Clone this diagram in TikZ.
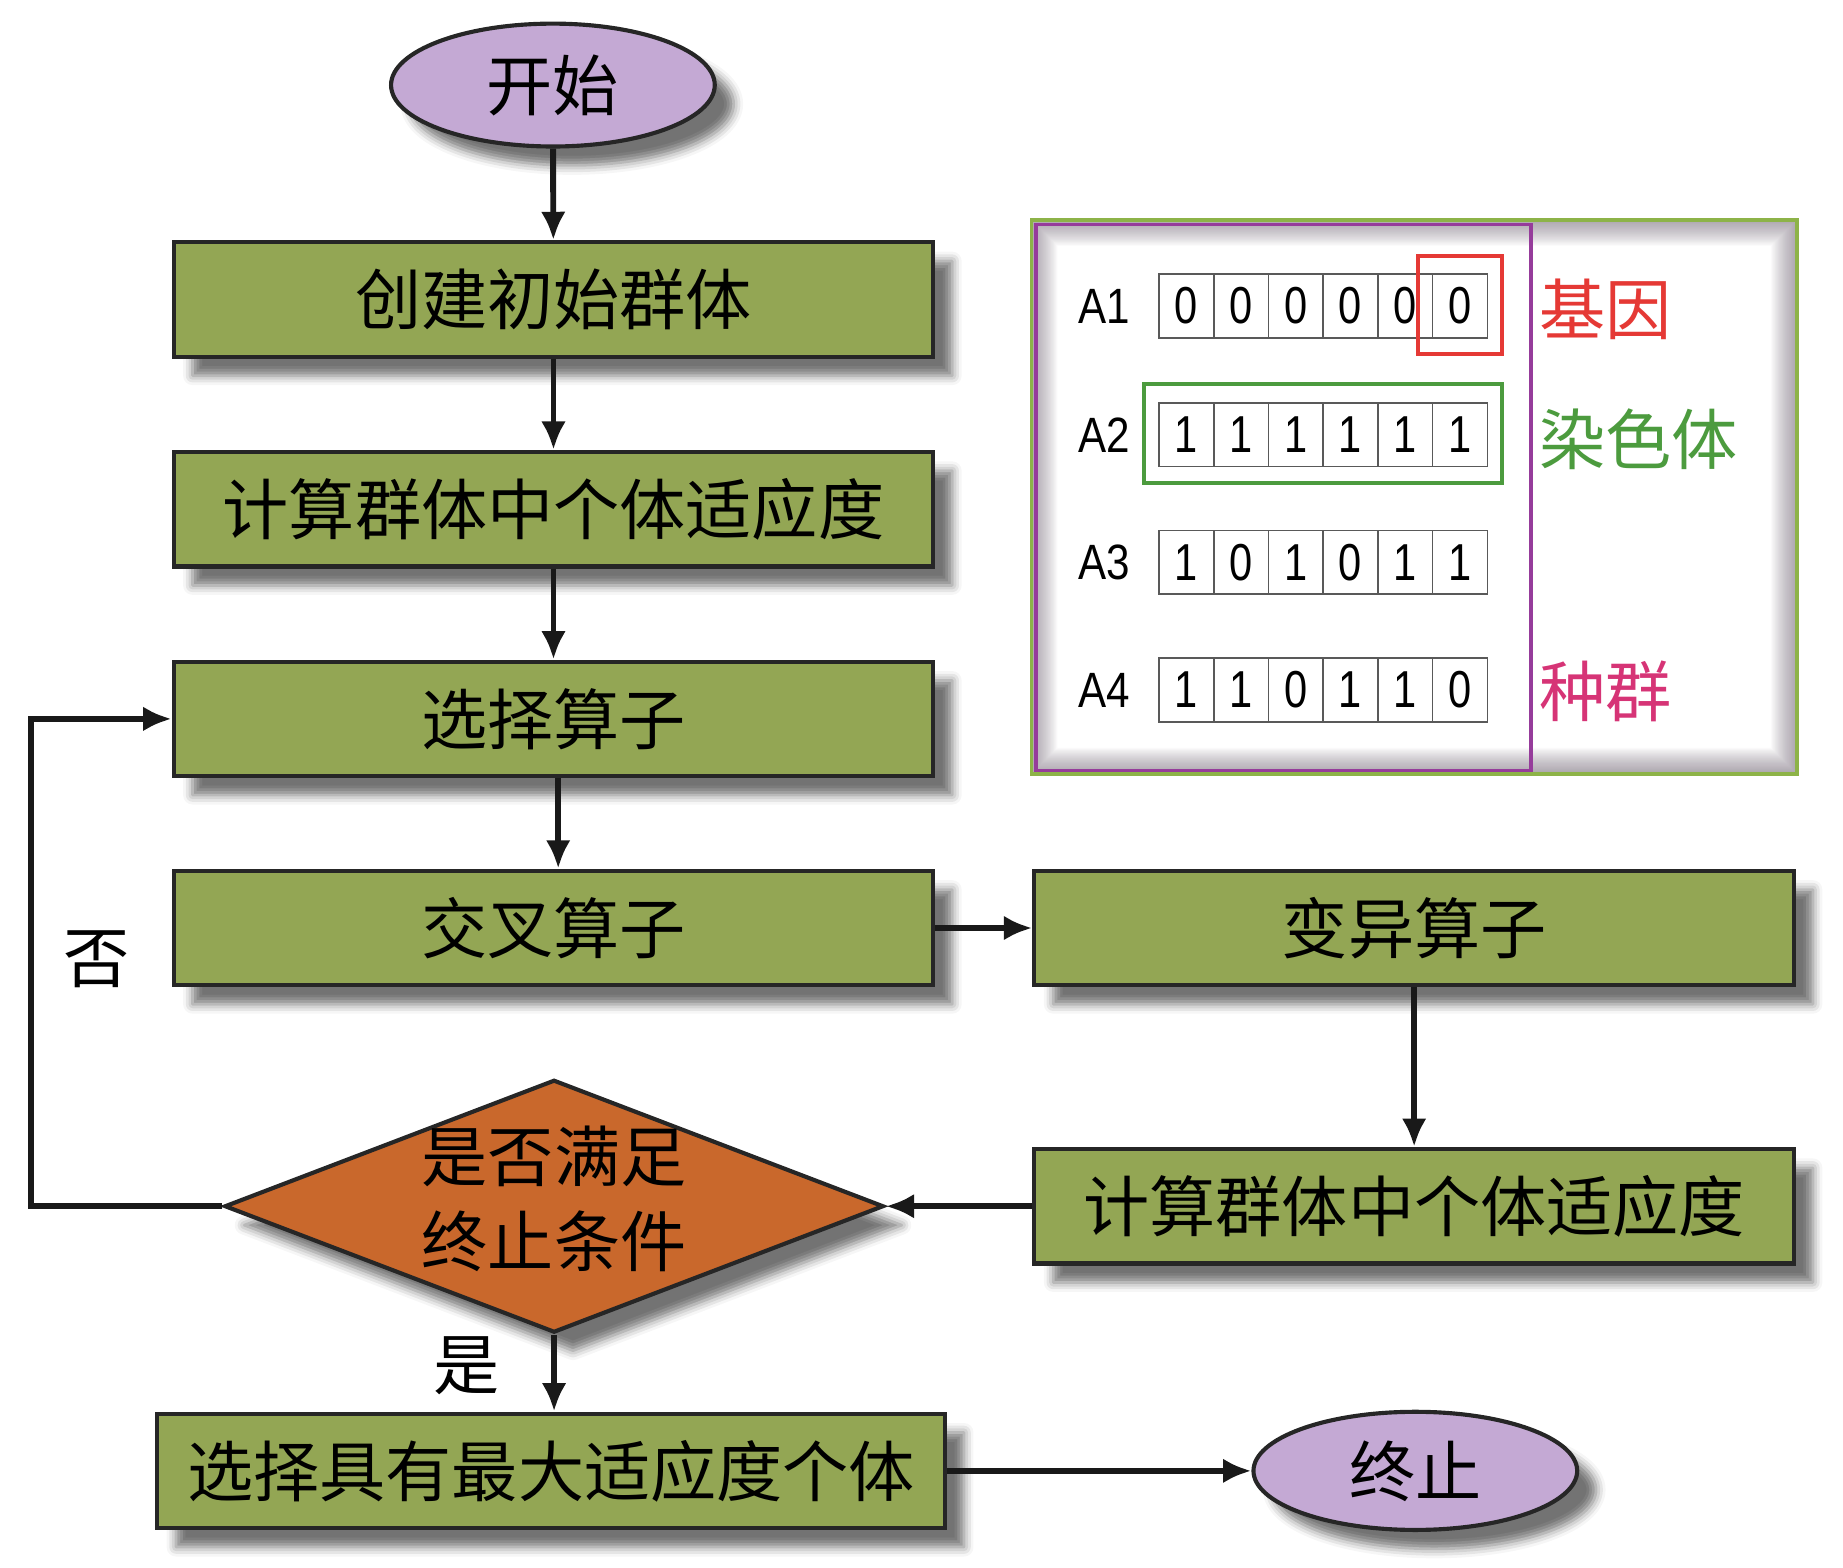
\documentclass[tikz,border=0pt]{standalone}
\usepackage{fontspec}
\usepackage{graphicx}
\newfontfamily\cjk{Noto Sans CJK SC}
\newfontfamily\lat{Liberation Sans}
\usetikzlibrary{shapes.geometric,arrows.meta,shadows.blur}
\definecolor{boxgreen}{RGB}{147,166,84}
\definecolor{ellfill}{RGB}{196,169,212}
\definecolor{decfill}{RGB}{201,104,44}
\definecolor{panelgreen}{RGB}{141,179,72}
\definecolor{panelpurple}{RGB}{150,60,155}
\definecolor{genered}{RGB}{229,57,53}
\definecolor{chromgreen}{RGB}{76,155,62}
\definecolor{popmag}{RGB}{214,52,118}
\definecolor{innershade}{RGB}{120,108,124}
\begin{document}
\begin{tikzpicture}[x=1pt,y=-1pt,
  shad/.style={blur shadow={shadow xshift=16pt,shadow yshift=-16pt,shadow blur radius=8pt,shadow opacity=55}},
  cjkfont/.style={font=\cjk\fontsize{56pt}{72pt}\selectfont},
  procbox/.style={rectangle,draw=black!85,line width=3.5pt,fill=boxgreen,minimum width=643pt,minimum height=97pt,inner sep=0pt,cjkfont,shad},
  terminal/.style={ellipse,draw=black!85,line width=3.5pt,fill=ellfill,minimum width=274pt,minimum height=104pt,inner sep=0pt,cjkfont,shad},
  decision/.style={diamond,draw=black!85,line width=3.5pt,fill=decfill,minimum width=558pt,minimum height=214pt,inner sep=0pt,shad},
  conn/.style={line width=5pt,draw=black!90,-{Latex[length=24pt,width=21pt]}},
  cell/.style={rectangle,draw=black!65,line width=1.4pt,minimum width=46.33pt,minimum height=54pt,inner sep=0pt,font=\lat\fontsize{44pt}{50pt}\selectfont},
  rowlab/.style={font=\lat\fontsize{42pt}{50pt}\selectfont,inner sep=0pt},
  plabel/.style={cjkfont,anchor=west,inner sep=0pt}
]
\useasboundingbox (0,0) rectangle (1560,1327.2);

% ---------- flowchart ----------
\node[terminal] (start) at (468,72) {开始};
\node[procbox] (b1) at (468.5,253.5) {创建初始群体};
\node[procbox] (b2) at (468.5,431) {计算群体中个体适应度};
\node[procbox] (b3) at (468.5,608.5) {选择算子};
\node[procbox] (b4) at (468.5,785.5) {交叉算子};
\node[procbox] (b5) at (1197,785.5) {变异算子};
\node[procbox] (b6) at (1197,1021) {计算群体中个体适应度};
\node[decision] (dec) at (469,1021) {};
\node[cjkfont,align=center,inner sep=0pt] (dectext) at (469,1015) {是否满足\\终止条件};
\node[procbox,minimum width=667pt] (b7) at (466.5,1245) {选择具有最大适应度个体};
\node[terminal,minimum height=100pt] (stop) at (1198,1245) {终止};

\node[cjkfont,inner sep=0pt] (no) at (82,812) {否};
\node[cjkfont,inner sep=0pt] (yes) at (395,1156) {是};

\draw[conn] (start) -- (b1);
\draw[conn] (b1) -- (b2);
\draw[conn] (b2) -- (b3);
\draw[conn] ([xshift=4pt]b3.south) -- ([xshift=4pt]b4.north);
\draw[conn] (b4) -- (b5);
\draw[conn] (b5) -- (b6);
\draw[conn] (b6) -- (dec.east);
\draw[conn] (dec.west) -- ++(-162,0) |- (b3.west);
\draw[conn] (dec.south) -- (dec.south |- b7.north);
\draw[conn] (b7) -- (stop);

% ---------- panel ----------
\fill[white] (873,186) rectangle (1521,655);
\foreach \k in {1,...,22}{
  \fill[innershade,opacity=0.035,even odd rule] (873,186) rectangle (1521,655) ({873+\k},{186+\k}) rectangle ({1521-\k},{655-\k});
}
\node[draw=panelgreen,line width=3pt,minimum width=648pt,minimum height=469pt,inner sep=0pt] (panel) at (1197,420.5) {};
\node[draw=panelpurple,line width=3pt,minimum width=419pt,minimum height=462pt,inner sep=0pt] (pop) at (1086.5,421) {};

\foreach \r/\yy/\a/\b/\c/\d/\e/\f in {1/259/0/0/0/0/0/0, 2/368/1/1/1/1/1/1, 3/476/1/0/1/0/1/1, 4/584/1/1/0/1/1/0}{
  \node[rowlab] (lab\r) at (935,\yy) {\scalebox{0.85}[1]{A\r}};
  \foreach \i/\v in {1/\a,2/\b,3/\c,4/\d,5/\e,6/\f}{
    \node[cell] (c\r\i) at ({981+46.33*(\i-0.5)},\yy) {\scalebox{0.8}[1]{\v}};
  }
}
\node[draw=genered,line width=3.5pt,minimum width=71pt,minimum height=83pt,inner sep=0pt] (gene) at (1235.5,258.5) {};
\node[draw=chromgreen,line width=3.5pt,minimum width=303pt,minimum height=84pt,inner sep=0pt] (chrom) at (1119.5,367) {};

\node[plabel,text=genered] (tgene) at (1303,262) {基因};
\node[plabel,text=chromgreen] (tchrom) at (1303,372) {染色体};
\node[plabel,text=popmag] (tpop) at (1303,585) {种群};
\end{tikzpicture}
\end{document}
